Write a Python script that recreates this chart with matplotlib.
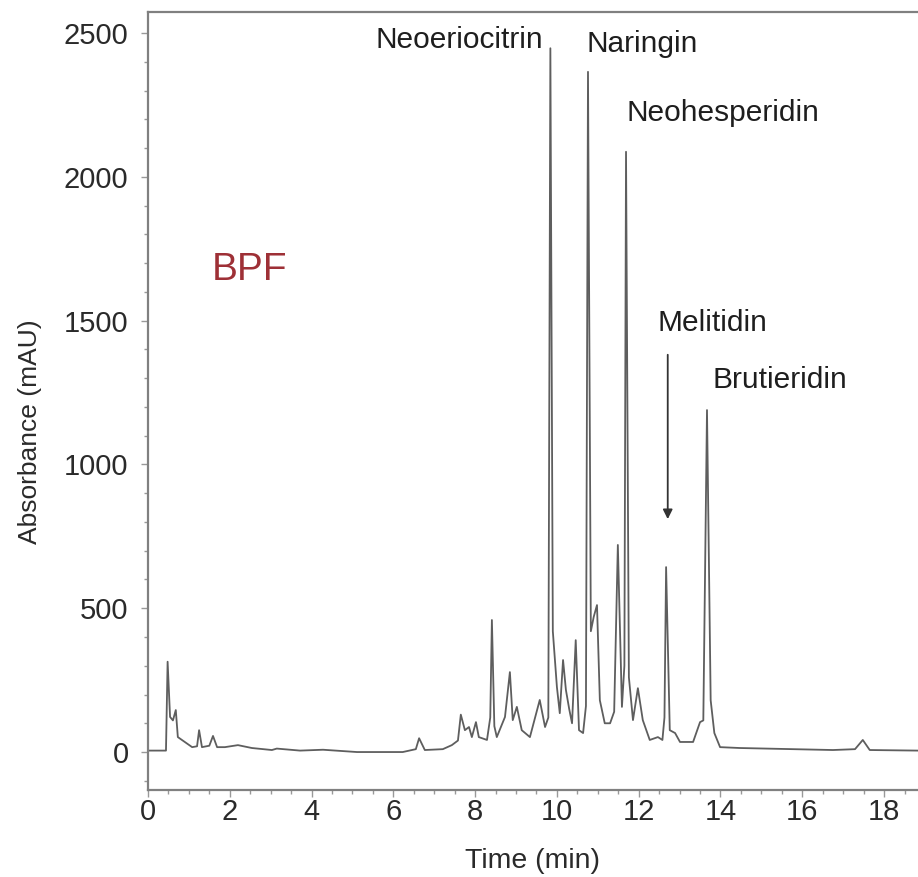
import numpy as np
import matplotlib
matplotlib.use("Agg")
from matplotlib import pyplot as plt
from matplotlib.ticker import MultipleLocator

plt.rcParams['font.family'] = ['Liberation Sans', 'DejaVu Sans']

# chromatogram trace (time in min, absorbance in mAU)
time = [0.00, 0.44, 0.48, 0.54, 0.61, 0.68, 0.73, 0.90, 1.08, 1.20, 1.25, 1.32,
        1.50, 1.59, 1.69, 1.88, 2.20, 2.54, 3.03, 3.15, 3.72, 4.28, 5.11, 6.23,
        6.55, 6.63, 6.77, 7.21, 7.43, 7.58, 7.65, 7.75, 7.85, 7.92, 8.02, 8.09,
        8.29, 8.37, 8.41, 8.47, 8.53, 8.73, 8.85, 8.92, 9.02, 9.14, 9.34, 9.58,
        9.71, 9.79, 9.84, 9.90, 10.00, 10.07, 10.15, 10.22, 10.30, 10.37, 10.46,
        10.54, 10.64, 10.71, 10.76, 10.83, 10.90, 10.98, 11.05, 11.17, 11.30,
        11.40, 11.49, 11.59, 11.65, 11.69, 11.76, 11.86, 11.98, 12.10, 12.27,
        12.47, 12.58, 12.63, 12.67, 12.76, 12.89, 13.01, 13.33, 13.50, 13.58,
        13.67, 13.76, 13.85, 13.99, 14.47, 16.75, 17.29, 17.48, 17.65, 18.83, 19.50]
absorbance = [5, 5, 314, 122, 110, 146, 52, 35, 17, 20, 76, 17,
              22, 56, 17, 17, 24, 14, 7, 12, 5, 8, 0, 0,
              10, 48, 7, 10, 24, 40, 130, 76, 87, 52, 104, 52,
              42, 120, 459, 90, 52, 122, 278, 111, 157, 76, 52, 181,
              87, 120, 2447, 420, 226, 135, 320, 216, 150, 100, 389,
              76, 66, 160, 2365, 420, 470, 511, 180, 100, 100,
              140, 720, 157, 300, 2087, 260, 111, 222, 111, 42,
              52, 42, 120, 643, 76, 66, 35, 35, 104, 110,
              1189, 180, 66, 17, 14, 7, 10, 42, 7, 5, 5]

# peak labels
peak_names = ['Neoeriocitrin', 'Naringin', 'Neohesperidin', 'Melitidin', 'Brutieridin']
label_t = [9.66, 10.73, 11.71, 12.47, 13.81]
label_a = [2476, 2462, 2222, 1492, 1293]
label_ha = ['right', 'left', 'left', 'left', 'left']

fig = plt.figure(figsize=(9.18, 8.77), dpi=100)
ax = fig.add_axes([0.1612, 0.0992, 0.8388, 0.8871])

ax.plot(time, absorbance, color='#5e5e5e', lw=1.3)

for name, t, a, ha in zip(peak_names, label_t, label_a, label_ha):
    ax.text(t, a, name, ha=ha, va='center', fontsize=21.5, color='#1e1e1e')

ax.text(1.56, 1676, 'BPF', ha='left', va='center', fontsize=28, color='#9e3036')

# arrow pointing at the Melitidin peak
ax.annotate('', xy=(12.71, 800), xytext=(12.71, 1391),
            arrowprops=dict(arrowstyle='-|>', color='#333333', lw=1.3,
                            mutation_scale=14))

ax.set_xlim(0, 18.83)
ax.set_ylim(-132, 2573)
ax.xaxis.set_major_locator(MultipleLocator(2))
ax.xaxis.set_minor_locator(MultipleLocator(0.5))
ax.yaxis.set_major_locator(MultipleLocator(500))
ax.yaxis.set_minor_locator(MultipleLocator(100))

ax.tick_params(which='both', direction='out', colors='#999999', labelcolor='#2a2a2a',
               labelsize=21, width=1)
ax.tick_params(which='major', length=5)
ax.tick_params(which='minor', length=3)
ax.tick_params(axis='x', which='major', pad=1)
ax.tick_params(axis='y', which='major', pad=9)

ax.set_xlabel('Time (min)', fontsize=20.5, color='#2a2a2a')
ax.set_ylabel('Absorbance (mAU)', fontsize=19, color='#2a2a2a')
ax.xaxis.set_label_coords(0.5, -0.074)
ax.yaxis.set_label_coords(-0.137, 0.46)

ax.spines['right'].set_visible(False)
for s in ['left', 'bottom', 'top']:
    ax.spines[s].set_color('#808080')
    ax.spines[s].set_linewidth(1.6)

fig.savefig('out.png', dpi=100)
